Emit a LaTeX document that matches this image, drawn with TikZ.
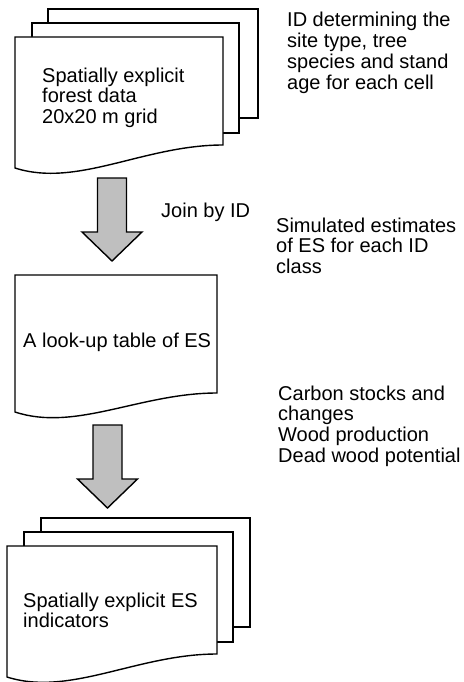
\documentclass[tikz,border=0pt]{standalone}
\usepackage{fontspec}
\setmainfont{Liberation Sans}
\usetikzlibrary{calc}
\definecolor{arrowgray}{RGB}{191,191,191}
\tikzset{
  sheet/.style={draw=black, fill=white, line width=1.4pt, line join=miter},
  fatarrow/.style={draw=black, fill=arrowgray, line width=1.4pt, line join=miter},
  % base west sits on the last line of a multi-line text
  doctext/.style={anchor=base west, inner sep=0pt, align=left, font=\fontsize{20}{20.7}\selectfont},
  sidenote/.style={doctext},
}
% sheet behind the front page of a stack
\newcommand{\backsheet}[4]{\draw[sheet] (#1,#2) rectangle (#3,#4);}
% page with a wavy bottom: left, top, right, right bottom, left bottom
\newcommand{\docpage}[5]{%
  \draw[sheet] (#1,#5) -- (#1,#2) -- (#3,#2) -- (#3,#4)
    .. controls ({#1+0.62*(#3-#1)},#4) and ({#1+0.3*(#3-#1)},{#5+20}) .. (#1,#5) -- cycle;}
% fat down arrow from a top coordinate to its tip
\newcommand{\blockdown}[2]{%
  \draw[fatarrow] ($(#1)+(-14.5,0)$) -- ($(#2)+(-14.5,-29)$) -- ($(#2)+(-30,-29)$) -- (#2)
    -- ($(#2)+(30,-29)$) -- ($(#2)+(14.5,-29)$) -- ($(#1)+(14.5,0)$) -- cycle;}

\begin{document}
\begin{tikzpicture}[x=1pt, y=-1pt]
  \useasboundingbox (0,0) rectangle (463,682);

  % forest data stack
  \backsheet{48}{9}{258}{118}
  \backsheet{32}{23}{239}{133}
  \docpage{15}{37}{223}{145}{168}
  \node[doctext] (griddata) at (42,123.4) {Spatially explicit\\forest data\\20x20 m grid};
  \node[sidenote] (griddesc) at (287,89.1) {ID determining the\\site type, tree\\species and stand\\age for each cell};

  \coordinate (joinTop) at (112,178);
  \coordinate (joinTip) at (112,261);
  \blockdown{joinTop}{joinTip}
  \node[sidenote] (joinlbl) at (161,217) {Join by ID};

  % look-up table
  \docpage{15}{275}{217}{393}{412}
  \node[doctext] (lookup) at (23,347) {A look-up table of ES};
  \node[sidenote] (lookupdesc) at (276,273.4) {Simulated estimates\\of ES for each ID\\class};

  \coordinate (mapTop) at (107.5,425);
  \coordinate (mapTip) at (107.5,508);
  \blockdown{mapTop}{mapTip}

  % indicator maps stack
  \backsheet{41}{518}{250}{627}
  \backsheet{24}{532}{233}{642}
  \docpage{7}{546}{217}{654}{677}
  \node[doctext] (esmaps) at (23,627.7) {Spatially explicit ES\\indicators};
  \node[sidenote] (esdesc) at (278,462.1) {Carbon stocks and\\changes\\Wood production\\Dead wood potential};
\end{tikzpicture}
\end{document}
